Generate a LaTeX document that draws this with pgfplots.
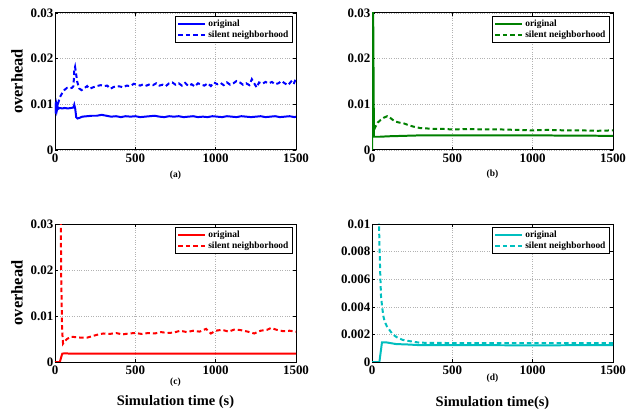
\documentclass[border=0pt]{standalone}
\usepackage{fontspec}
\setmainfont{Liberation Serif}
\usepackage{pgfplots}
\pgfplotsset{compat=1.18}
\definecolor{mblue}{RGB}{0,0,255}
\definecolor{mgreen}{RGB}{0,128,0}
\definecolor{mred}{RGB}{255,0,0}
\definecolor{mcyan}{RGB}{0,191,191}

\pgfplotsset{
  panel/.style={
    scale only axis, width=241bp, height=137bp,
    anchor=south west,
    clip mode=individual,
    xmin=0, xmax=1500, xtick={0,500,1000,1500},
    ymin=0,
    axis line style={line width=1pt},
    tick align=inside, tick style={black, line width=0.6pt}, major tick length=3pt,
    grid=major, grid style={dotted, gray!60, line width=0.45pt},
    scaled y ticks=false,
    /pgf/number format/assume math mode=true,
    /pgf/number format/set thousands separator={},
    ticklabel style={font=\fontsize{13}{13}\selectfont\bfseries},
    yticklabel style={/pgf/number format/fixed, inner sep=1.5pt},
    legend cell align=left,
    legend style={at={(0.985,0.975)}, anchor=north east, draw=black,
      line width=0.8pt, font=\fontsize{9.5}{10}\selectfont\bfseries,
      inner sep=1.5pt, row sep=-1.5pt},
    legend image code/.code={\draw[#1] (0cm,0cm) -- (0.95cm,0cm);},
  },
  orig/.style={line width=2pt},
  sil/.style={line width=2pt, dash pattern=on 4.5pt off 3pt},
}
\newcommand{\ylab}{\node[rotate=90, font=\fontsize{16.5}{16.5}\selectfont\bfseries]
  at (rel axis cs:-0.158,0.5) {overhead};}
\newcommand{\sub}[2]{\node[font=\fontsize{9.5}{9.5}\selectfont\bfseries]
  at (rel axis cs:0.5,#2) {#1};}
\newcommand{\xlab}[2]{\node[font=\fontsize{14.5}{14.5}\selectfont\bfseries]
  at (rel axis cs:0.5,#2) {#1};}

\begin{document}
\begin{tikzpicture}
\useasboundingbox (0,0) rectangle (626bp,413bp);

% (a)
\begin{axis}[panel, at={(55bp,263bp)}, ymax=0.03, ytick={0,0.01,0.02,0.03},
  yticklabel style={/pgf/number format/precision=2}]
\addplot[mblue, orig] coordinates {(0,0.0085) (3,0.0102) (6,0.0080) (9,0.0098) (12,0.0088) (16,0.0095) (20,0.0090) (30,0.0092) (45,0.0091) (60,0.0092) (80,0.0091) (100,0.0092) (115,0.0093) (120,0.0099) (126,0.0090) (132,0.0072) (140,0.0069) (150,0.0070) (170,0.0073) (200,0.0074) (230,0.0075) (260,0.0075) (290,0.0077) (320,0.0075) (350,0.0073) (380,0.0074) (410,0.0072) (440,0.0074) (470,0.0073) (500,0.0074) (530,0.0072) (560,0.0073) (590,0.0074) (620,0.0075) (650,0.0073) (680,0.0072) (710,0.0074) (740,0.0073) (770,0.0074) (800,0.0072) (830,0.0073) (860,0.0074) (890,0.0072) (920,0.0073) (950,0.0072) (980,0.0074) (1010,0.0073) (1040,0.0072) (1070,0.0074) (1100,0.0073) (1130,0.0072) (1160,0.0074) (1190,0.0073) (1220,0.0072) (1250,0.0073) (1280,0.0074) (1310,0.0072) (1340,0.0073) (1370,0.0074) (1400,0.0072) (1430,0.0073) (1460,0.0074) (1490,0.0072) (1500,0.0073)};
\addplot[mblue, sil] coordinates {(0,0.0080) (3,0.0105) (6,0.0090) (9,0.0100) (12,0.0095) (16,0.0105) (20,0.0103) (30,0.0115) (45,0.0125) (60,0.0132) (75,0.0136) (90,0.0135) (105,0.0136) (115,0.0140) (120,0.0175) (125,0.0182) (130,0.0170) (138,0.0150) (150,0.0135) (165,0.0131) (185,0.0136) (200,0.0140) (215,0.0134) (235,0.0137) (260,0.0140) (285,0.0142) (305,0.0140) (325,0.0141) (345,0.0134) (365,0.0138) (385,0.0140) (405,0.0139) (425,0.0137) (445,0.0141) (470,0.0140) (490,0.0145) (510,0.0143) (530,0.0141) (550,0.0144) (570,0.0141) (590,0.0144) (610,0.0142) (630,0.0146) (650,0.0141) (670,0.0143) (690,0.0140) (710,0.0146) (730,0.0148) (750,0.0143) (770,0.0146) (790,0.0141) (810,0.0147) (830,0.0140) (850,0.0144) (870,0.0139) (890,0.0146) (910,0.0143) (930,0.0141) (950,0.0146) (970,0.0140) (990,0.0148) (1010,0.0144) (1030,0.0147) (1050,0.0142) (1070,0.0148) (1090,0.0143) (1110,0.0146) (1130,0.0151) (1150,0.0148) (1170,0.0143) (1190,0.0146) (1210,0.0142) (1225,0.0155) (1240,0.0146) (1255,0.0137) (1270,0.0148) (1290,0.0145) (1310,0.0149) (1330,0.0146) (1350,0.0149) (1370,0.0144) (1390,0.0146) (1410,0.0151) (1430,0.0146) (1450,0.0142) (1470,0.0150) (1485,0.0144) (1500,0.0157)};
\legend{original, silent neighborhood}
\ylab
\sub{(a)}{-0.182}
\end{axis}

% (b)
\begin{axis}[panel, at={(372bp,263bp)}, ymax=0.03, ytick={0,0.01,0.02,0.03},
  yticklabel style={/pgf/number format/precision=2}]
\addplot[mgreen, orig] coordinates {(0,0) (2,0.06) (12,0.0029) (50,0.0029) (100,0.0030) (200,0.0031) (300,0.0032) (500,0.0032) (800,0.0032) (1000,0.0032) (1500,0.0031)};
\addplot[mgreen, sil] coordinates {(14,0.0045) (20,0.0050) (35,0.0060) (55,0.0066) (75,0.0071) (95,0.0074) (115,0.0070) (140,0.0063) (170,0.0060) (200,0.0058) (230,0.0054) (260,0.0051) (300,0.0048) (350,0.0047) (400,0.0046) (450,0.0046) (500,0.0045) (600,0.0046) (700,0.0045) (800,0.0045) (900,0.0044) (1000,0.0043) (1100,0.0044) (1200,0.0043) (1300,0.0043) (1400,0.0042) (1500,0.0043)};
\legend{original, silent neighborhood}
\sub{(b)}{-0.175}
\end{axis}

% (c)
\begin{axis}[panel, at={(55bp,51bp)}, height=138bp, ymax=0.03, ytick={0,0.01,0.02,0.03},
  yticklabel style={/pgf/number format/precision=2}]
\addplot[mred, orig] coordinates {(0,0) (30,0) (45,0.0018) (60,0.0019) (100,0.0018) (200,0.0018) (300,0.0018) (400,0.0018) (500,0.0018) (700,0.0018) (900,0.0018) (1100,0.0018) (1300,0.0018) (1500,0.0018)};
\addplot[mred, sil] coordinates {(32,0.06) (38,0.02) (44,0.007) (50,0.0040) (60,0.0045) (75,0.0050) (100,0.0055) (130,0.0054) (160,0.0053) (200,0.0053) (230,0.0056) (260,0.0059) (300,0.0062) (340,0.0061) (380,0.0063) (420,0.0060) (460,0.0062) (500,0.0063) (540,0.0061) (580,0.0063) (620,0.0062) (660,0.0065) (700,0.0063) (740,0.0064) (780,0.0068) (820,0.0065) (860,0.0068) (900,0.0066) (940,0.0072) (970,0.0062) (1000,0.0068) (1040,0.0070) (1080,0.0066) (1120,0.0071) (1160,0.0069) (1200,0.0066) (1240,0.0062) (1280,0.0068) (1320,0.0070) (1345,0.0074) (1380,0.0070) (1420,0.0067) (1460,0.0068) (1500,0.0066)};
\legend{original, silent neighborhood}
\ylab
\sub{(c)}{-0.145}
\xlab{Simulation time (s)}{-0.29}
\end{axis}

% (d)
\begin{axis}[panel, at={(372bp,51bp)}, height=138bp, ymax=0.01,
  ytick={0,0.002,0.004,0.006,0.008,0.01},
  yticklabel style={/pgf/number format/precision=3}]
\addplot[mcyan, orig] coordinates {(0,0) (46,0) (62,0.00142) (90,0.00142) (150,0.0013) (220,0.00127) (300,0.00122) (500,0.00122) (1000,0.00121) (1500,0.00122)};
\addplot[mcyan, sil] coordinates {(40,0.012) (46,0.0087) (51,0.0065) (56,0.0048) (63,0.0040) (71,0.0033) (80,0.0029) (92,0.0026) (110,0.0023) (129,0.0020) (160,0.00175) (192,0.0016) (240,0.0015) (296,0.0014) (400,0.00138) (600,0.00137) (1000,0.00137) (1500,0.00137)};
\legend{original, silent neighborhood}
\sub{(d)}{-0.118}
\xlab{Simulation time(s)}{-0.30}
\end{axis}
\end{tikzpicture}
\end{document}
